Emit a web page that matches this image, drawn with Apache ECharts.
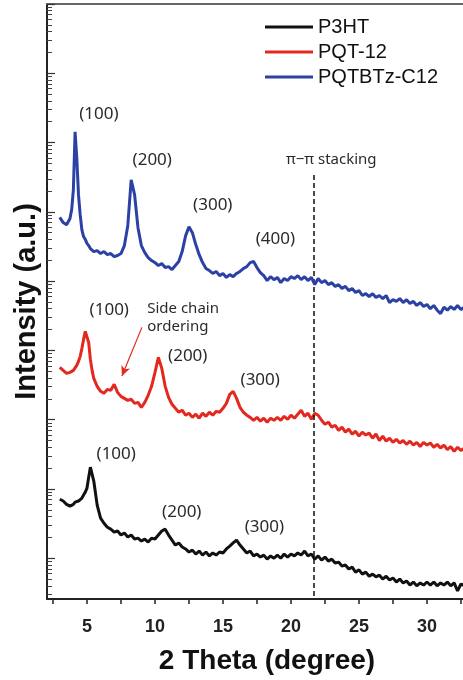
<!DOCTYPE html>
<html>
<head>
<meta charset="utf-8">
<script src="https://cdn.jsdelivr.net/npm/echarts@6/dist/echarts.min.js"></script>
<style>
  html, body { margin: 0; padding: 0; background: #fff; }
  #chart { width: 463px; height: 680px; }
</style>
</head>
<body>
<div id="chart"></div>
<script>
// XRD scans of three polymer films, 2-theta in degrees, intensity in arbitrary units (log scale)
const twoTheta = [
  3, 3.25, 3.5, 3.75,
  3.875, 4, 4.125, 4.25, 4.375, 4.5, 4.625, 4.75, 4.875, 5, 5.125, 5.25, 5.375, 5.5,
  5.75, 6, 6.25, 6.5, 6.75, 7, 7.25, 7.5, 7.75, 8, 8.25, 8.5, 8.75, 9, 9.25, 9.5, 9.75,
  10, 10.25, 10.5, 10.75, 11, 11.25, 11.5, 11.75, 12, 12.25, 12.5, 12.75, 13, 13.25, 13.5, 13.75,
  14, 14.25, 14.5, 14.75, 15, 15.25, 15.5, 15.75, 16, 16.25, 16.5, 16.75, 17, 17.25, 17.5, 17.75,
  18, 18.25, 18.5, 18.75, 19, 19.25, 19.5, 19.75, 20, 20.25, 20.5, 20.75, 21, 21.25, 21.5, 21.75,
  22, 22.25, 22.5, 22.75, 23, 23.25, 23.5, 23.75, 24, 24.25, 24.5, 24.75, 25, 25.25, 25.5, 25.75,
  26, 26.25, 26.5, 26.75, 27, 27.25, 27.5, 27.75, 28, 28.25, 28.5, 28.75, 29, 29.25, 29.5, 29.75,
  30, 30.25, 30.5, 30.75, 31, 31.25, 31.5, 31.75, 32, 32.25, 32.5, 32.75
];

const p3ht = [
  7.1, 6.7, 6.0, 5.65,
  5.85, 6.0, 6.45, 6.45, 6.7, 6.9, 7.4, 8.2, 9.0, 10.3, 14.8, 20.6, 19.3, 13,
  5.85, 3.8, 3.2, 2.8, 2.63, 2.38, 2.47, 2.16, 2.31, 2.02, 2.16, 1.89, 1.95, 1.77, 1.89, 1.71, 1.95,
  1.89, 2.16, 2.47, 2.63, 2.16, 1.83, 1.55, 1.66, 1.45, 1.36, 1.23, 1.31, 1.15, 1.27, 1.11, 1.23,
  1.08, 1.19, 1.11, 1.23, 1.19, 1.36, 1.5, 1.66, 1.83, 1.55, 1.36, 1.19, 1.27, 1.08, 1.15, 1.04,
  1.11, 0.97, 1.08, 1.0, 1.11, 1.0, 1.15, 1.04, 1.15, 1.08, 1.19, 1.11, 1.27, 1.08, 1.15, 0.97,
  1.08, 0.94, 1.04, 0.91, 0.97, 0.855, 0.88, 0.77, 0.8, 0.7, 0.745, 0.63, 0.68, 0.59, 0.63, 0.55,
  0.59, 0.54, 0.57, 0.5, 0.55, 0.485, 0.52, 0.454, 0.5, 0.44, 0.47, 0.41, 0.454, 0.4, 0.44, 0.41,
  0.454, 0.41, 0.454, 0.4, 0.44, 0.41, 0.454, 0.4, 0.44, 0.337, 0.425, 0.4
];

const pqt12 = [
  569, 515, 466, 482,
  498, 515, 550, 608, 694, 820, 1070, 1440, 1880, 1940, 1300, 742, 515, 395,
  303, 257, 240, 274, 265, 324, 248, 217, 203, 190, 197, 172, 178, 151, 178, 225, 303,
  482, 793, 550, 303, 210, 167, 146, 128, 137, 116, 124, 108, 120, 105, 124, 112,
  128, 116, 132, 128, 146, 172, 232, 257, 203, 151, 128, 116, 108, 98, 108, 95,
  105, 92, 105, 98, 108, 98, 112, 101, 116, 105, 120, 137, 112, 124, 101, 124,
  116, 98, 86, 92, 78, 83, 70, 78, 66, 73, 62, 68, 58, 66, 60, 64,
  54, 62, 50, 58, 49, 54, 47, 52, 46, 50, 44, 49, 43, 47, 41, 47,
  43, 46, 40, 44, 39, 43, 37, 41, 35, 40, 36, 39
];

const pqtbtz = [
  8.3e4, 7.0e4, 6.5e4, 8.0e4,
  1.08e5, 2.1e5, 1.43e6, 6.0e5, 1.77e5, 9.1e4, 5.5e4, 4.4e4, 4.0e4, 3.5e4, 3.26e4, 2.95e4, 3.05e4, 2.67e4,
  2.76e4, 2.5e4, 2.67e4, 2.41e4, 2.5e4, 2.26e4, 2.34e4, 2.5e4, 3.26e4, 6.3e4, 2.9e5, 1.77e5, 5.9e4, 3.26e4, 2.58e4, 2.19e4, 1.98e4,
  1.85e4, 1.68e4, 1.79e4, 1.57e4, 1.62e4, 1.47e4, 1.68e4, 1.92e4, 2.67e4, 4.5e4, 6.1e4, 5.0e4, 3.37e4, 2.41e4, 1.85e4, 1.52e4,
  1.42e4, 1.29e4, 1.38e4, 1.2e4, 1.29e4, 1.13e4, 1.24e4, 1.16e4, 1.29e4, 1.38e4, 1.52e4, 1.62e4, 1.85e4, 1.92e4, 1.57e4, 1.33e4,
  1.2e4, 1.02e4, 1.16e4, 1.05e4, 1.13e4, 9.5e3, 1.09e4, 1.02e4, 1.16e4, 1.09e4, 1.2e4, 1.05e4, 1.16e4, 1.02e4, 1.13e4, 8.9e3,
  1.09e4, 9.5e3, 1.02e4, 8.9e3, 9.5e3, 8.4e3, 8.9e3, 7.8e3, 8.4e3, 7.3e3, 7.8e3, 6.85e3, 7.3e3, 6.2e3, 6.6e3, 6.0e3,
  6.6e3, 5.8e3, 6.2e3, 5.6e3, 6.2e3, 4.9e3, 5.4e3, 5.1e3, 5.6e3, 4.9e3, 5.4e3, 4.75e3, 5.1e3, 4.45e3, 4.9e3, 4.3e3,
  4.6e3, 4.0e3, 4.45e3, 3.8e3, 3.4e3, 4.2e3, 3.8e3, 4.3e3, 3.9e3, 4.45e3, 3.9e3, 4.2e3
];

const seriesNames = ['P3HT', 'PQT-12', 'PQTBTz-C12'];
const seriesColors = ['#111111', '#e3281f', '#2b41a5'];

const xLabelValues = [5, 10, 15, 20, 25, 30];
const xTickValues = [2.5, 5, 7.5, 10, 12.5, 15, 17.5, 20, 22.5, 25, 27.5, 30, 32.5];

// Reflection labels, placed in data space (2-theta, intensity)
const peakNotes = [
  { text: '(100)', theta: 5.87, counts: 2.6e6 },
  { text: '(200)', theta: 9.80, counts: 5.5e5 },
  { text: '(300)', theta: 14.25, counts: 1.24e5 },
  { text: '(400)', theta: 18.85, counts: 4.1e4 },
  { text: '(100)', theta: 6.64, counts: 3800 },
  { text: '(200)', theta: 12.41, counts: 820 },
  { text: '(300)', theta: 17.74, counts: 370 },
  { text: '(100)', theta: 7.15, counts: 31.7 },
  { text: '(200)', theta: 11.97, counts: 4.6 },
  { text: '(300)', theta: 18.04, counts: 2.8 }
];
const stackingNote = { text: 'π−π stacking', theta: 22.96, counts: 5.6e5 };
const sideChainNote = { text: 'Side chain\nordering', theta: 9.43, counts: 3000 };
const sideChainArrow = [[9.04, 2150], [7.57, 426]];
const stackingLine = { theta: 21.7, top: 3.4e5 };

const xMin = 2.06, xMax = 32.65;
const yMin = 0.258, yMax = 1e8;

// decade / sub-decade tick positions, expressed in log10 units
const logLo = Math.log10(yMin), logHi = Math.log10(yMax);
const majorLog = [], minorLog = [];
for (let n = -1; n <= 8; n++) {
  if (n >= logLo && n <= logHi) majorLog.push(n);
  for (let k = 2; k <= 9; k++) {
    const v = n + Math.log10(k);
    if (v >= logLo && v <= logHi) minorLog.push(v);
  }
}

const curves = [p3ht, pqt12, pqtbtz];
const series = curves.map((vals, i) => ({
  name: seriesNames[i],
  type: 'line',
  xAxisIndex: 0,
  yAxisIndex: 0,
  data: twoTheta.map((t, j) => [t, vals[j]]),
  symbol: 'none',
  lineStyle: { width: 3, color: seriesColors[i] },
  itemStyle: { color: seriesColors[i] },
  z: 3 + i
}));

const noteFont = 'Noto Sans';
series[2].markPoint = {
  silent: true,
  symbol: 'circle',
  symbolSize: 0,
  label: {
    show: true, position: 'inside', formatter: '{b}',
    color: '#2a2a2a', fontSize: 17, fontFamily: noteFont
  },
  data: peakNotes.map(p => ({ name: p.text, coord: [p.theta, p.counts] })).concat([
    { name: stackingNote.text, coord: [stackingNote.theta, stackingNote.counts],
      label: { fontSize: 15 } },
    { name: sideChainNote.text, coord: [sideChainNote.theta, sideChainNote.counts],
      label: { fontSize: 15, align: 'left', lineHeight: 18 } }
  ])
};
series[2].markLine = {
  silent: true,
  animation: false,
  label: { show: false },
  symbol: ['none', 'none'],
  data: [
    [
      { coord: [stackingLine.theta, stackingLine.top],
        lineStyle: { color: '#111', width: 1.5, type: [5, 3] } },
      { coord: [stackingLine.theta, yMin] }
    ],
    [
      { coord: sideChainArrow[0], symbol: 'none',
        lineStyle: { color: '#e3281f', width: 1.2, type: 'solid' } },
      { coord: sideChainArrow[1], symbol: 'arrow', symbolSize: [7, 10] }
    ]
  ]
};

const tickAxisBase = {
  type: 'value', min: logLo, max: logHi, position: 'left',
  axisLabel: { show: false }, splitLine: { show: false }
};

const option = {
  animation: false,
  backgroundColor: '#fff',
  grid: { left: 47, right: 0, top: 4, bottom: 80 },
  legend: {
    orient: 'vertical', left: 265, top: 17, padding: 0,
    icon: 'rect', itemWidth: 48, itemHeight: 3, itemGap: 5,
    selectedMode: false,
    textStyle: { fontSize: 20, color: '#111', fontFamily: 'Liberation Sans' },
    data: seriesNames
  },
  xAxis: [
    {
      type: 'value', min: xMin, max: xMax, position: 'bottom',
      axisLine: { onZero: false, lineStyle: { color: '#222', width: 2 } },
      axisTick: { customValues: xTickValues, length: 5, lineStyle: { color: '#222', width: 1.5 } },
      axisLabel: {
        customValues: xLabelValues, margin: 19,
        fontSize: 18, fontWeight: 'bold', color: '#222', fontFamily: 'Liberation Sans'
      },
      splitLine: { show: false },
      name: '2 Theta (degree)', nameLocation: 'middle', nameGap: 48,
      nameTextStyle: {
        fontSize: 28, fontWeight: 'bold', color: '#111', fontFamily: 'Liberation Sans',
        padding: [0, 0, 0, 24]
      }
    },
    {
      type: 'value', min: xMin, max: xMax, position: 'top',
      axisLine: { onZero: false, lineStyle: { color: '#666', width: 2 } },
      axisTick: { show: false }, axisLabel: { show: false }, splitLine: { show: false }
    }
  ],
  yAxis: [
    {
      type: 'log', logBase: 10, min: yMin, max: yMax, position: 'left',
      axisLine: { show: false }, axisTick: { show: false },
      axisLabel: { show: false }, splitLine: { show: false }
    },
    Object.assign({}, tickAxisBase, {
      axisLine: { show: true, onZero: false, lineStyle: { color: '#222', width: 2 } },
      axisTick: { show: true, inside: true, length: 8, customValues: majorLog,
        lineStyle: { color: '#333', width: 1.2 } },
      name: 'Intensity (a.u.)', nameLocation: 'middle', nameRotate: 90, nameGap: 6,
      nameTextStyle: { fontSize: 29, fontWeight: 'bold', color: '#111', fontFamily: 'Liberation Sans' }
    }),
    Object.assign({}, tickAxisBase, {
      axisLine: { show: false, onZero: false },
      axisTick: { show: true, inside: true, length: 5, customValues: minorLog,
        lineStyle: { color: '#444', width: 1 } }
    })
  ],
  series: series
};

const chart = echarts.init(document.getElementById('chart'), null, { renderer: 'canvas' });
chart.setOption(option);
</script>
</body>
</html>
